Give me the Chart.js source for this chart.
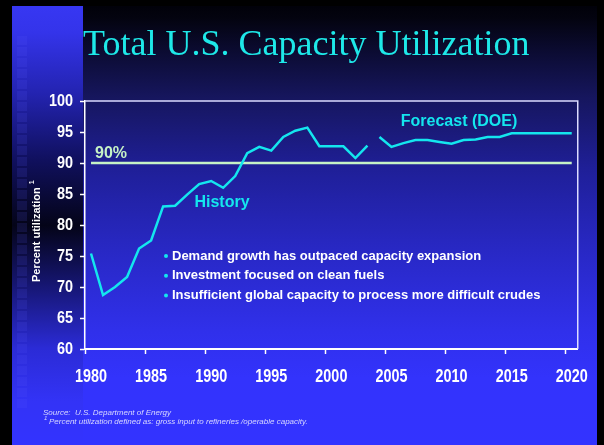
<!DOCTYPE html>
<html>
<head>
<meta charset="utf-8">
<title>Total U.S. Capacity Utilization</title>
<script src="https://cdn.jsdelivr.net/npm/chart.js@4"></script>
<style>
  html, body { margin: 0; padding: 0; background: #000; }
  canvas { display: block; }
</style>
</head>
<body>
<canvas id="capChart" width="604" height="445"></canvas>
<script>
// data
const years = [
  "1980", "1981", "1982", "1983", "1984", "1985", "1986", "1987", "1988", "1989",
  "1990", "1991", "1992", "1993", "1994", "1995", "1996", "1997", "1998", "1999",
  "2000", "2001", "2002", "2003", "2004", "2005", "2006", "2007", "2008", "2009",
  "2010", "2011", "2012", "2013", "2014", "2015", "2016", "2017", "2018", "2019", "2020"
];
// 1980 - 2003
const historyValues = [
  75.4, 68.7, 70.0, 71.6, 76.2, 77.5, 83.0, 83.1, 84.9, 86.6,
  87.1, 86.0, 87.9, 91.6, 92.6, 92.0, 94.2, 95.2, 95.7, 92.7,
  92.7, 92.7, 90.8, 92.8
];
// 2004 - 2020
const forecastYears = years.slice(historyValues.length);
const forecastValues = [
  94.2, 92.6, 93.2, 93.7, 93.7, 93.4, 93.1, 93.7, 93.8, 94.2,
  94.2, 94.8, 94.8, 94.8, 94.8, 94.8, 94.8
];
const targetLevel = 90;
const yTickMin = 60, yTickMax = 100, yTickStep = 5;

const bullets = [
  "Demand growth has outpaced capacity expansion",
  "Investment focused on clean fuels",
  "Insufficient global capacity to process more difficult crudes"
];

const SANS = '"Liberation Sans", Arial, sans-serif';
const CYAN = "#14e6ee";
const PALE_GREEN = "#c6f2c6";
const CLEAR = "rgba(0,0,0,0)";

// slide background: dark-to-blue gradient, black frame, left strip
const slideBackground = {
  id: "slideBackground",
  beforeDraw(chart) {
    const { ctx, width, height } = chart;
    ctx.save();
    const g = ctx.createLinearGradient(0, 0, 0, height);
    g.addColorStop(0.00, "#000006");
    g.addColorStop(0.04, "#03030f");
    g.addColorStop(0.12, "#0c0c34");
    g.addColorStop(0.22, "#16165e");
    g.addColorStop(0.38, "#1f1f98");
    g.addColorStop(0.56, "#2828c4");
    g.addColorStop(0.74, "#3030ea");
    g.addColorStop(0.85, "#3333fc");
    g.addColorStop(1.00, "#3333ff");
    ctx.fillStyle = g;
    ctx.fillRect(0, 0, width, height);

    // left strip
    const s = ctx.createLinearGradient(0, 6, 0, height);
    s.addColorStop(0.00, "#3737f2");
    s.addColorStop(0.06, "#3434ea");
    s.addColorStop(0.20, "#2323b0");
    s.addColorStop(0.35, "#10105e");
    s.addColorStop(0.50, "#040418");
    s.addColorStop(0.63, "#15156e");
    s.addColorStop(0.78, "#2b2bd6");
    s.addColorStop(0.90, "#3333f6");
    s.addColorStop(1.00, "#3333ff");
    ctx.fillStyle = s;
    ctx.fillRect(12, 6, 71, height - 6);

    // faint squares down the strip
    ctx.fillStyle = "rgba(90,90,255,0.14)";
    for (let y = 36; y < 405; y += 11) {
      ctx.fillRect(17, y, 10, 9);
    }

    // black frame
    ctx.fillStyle = "#000";
    ctx.fillRect(0, 0, width, 6);
    ctx.fillRect(0, 0, 12, height);
    ctx.fillRect(597, 0, width - 597, height);

    // title
    ctx.fillStyle = "#1ee8e8";
    ctx.font = '36px "Liberation Serif", "Times New Roman", serif';
    ctx.textAlign = "left";
    ctx.textBaseline = "alphabetic";
    ctx.fillText("Total U.S. Capacity Utilization", 83, 55);
    ctx.restore();
  }
};

// squeezed text, the slide fonts are narrow
function squeezedText(ctx, txt, x, y, sx) {
  ctx.save();
  ctx.translate(x, y);
  ctx.scale(sx, 1);
  ctx.fillText(txt, 0, 0);
  ctx.restore();
}

// plot frame, tick labels, annotations, bullets, footnote
const slideText = {
  id: "slideText",
  afterDraw(chart) {
    const { ctx, chartArea, scales } = chart;
    ctx.save();

    ctx.strokeStyle = "#dcdcff";
    ctx.lineWidth = 1.5;
    ctx.beginPath();
    ctx.moveTo(chartArea.left, chartArea.top);
    ctx.lineTo(chartArea.right, chartArea.top);
    ctx.lineTo(chartArea.right, chartArea.bottom);
    ctx.stroke();

    // axis labels
    ctx.fillStyle = "#ffffff";
    ctx.textBaseline = "middle";
    ctx.font = "bold 18px " + SANS;
    ctx.textAlign = "center";
    scales.x.ticks.forEach((t, i) => {
      if (i % 5 !== 0) return;
      squeezedText(ctx, years[i], scales.x.getPixelForTick(i), 377, 0.8);
    });
    ctx.font = "bold 16px " + SANS;
    ctx.textAlign = "right";
    scales.y.ticks.forEach(t => {
      squeezedText(ctx, String(t.value), 73, scales.y.getPixelForValue(t.value) + 0.5, 0.9);
    });

    ctx.textAlign = "left";
    ctx.font = "bold 16px " + SANS;
    ctx.fillStyle = PALE_GREEN;
    ctx.fillText("90%", 95, 154);

    ctx.fillStyle = CYAN;
    ctx.textAlign = "center";
    ctx.fillText("History", 222, 203);
    ctx.fillText("Forecast (DOE)", 459, 122);

    // bullets
    ctx.font = "bold 13px " + SANS;
    ctx.textAlign = "left";
    bullets.forEach((txt, i) => {
      const y = 256 + i * 19.8;
      ctx.fillStyle = CYAN;
      ctx.beginPath();
      ctx.arc(166, y, 2, 0, Math.PI * 2);
      ctx.fill();
      ctx.fillStyle = "#ffffff";
      ctx.fillText(txt, 172, y);
    });

    // y axis title, rotated
    ctx.save();
    ctx.translate(37, 282);
    ctx.rotate(-Math.PI / 2);
    ctx.fillStyle = "#ffffff";
    ctx.font = "bold 11px " + SANS;
    ctx.textAlign = "left";
    ctx.fillText("Percent utilization", 0, 0);
    const w = ctx.measureText("Percent utilization").width;
    ctx.font = "bold 7px " + SANS;
    ctx.fillText("1", w + 3, -5);
    ctx.restore();

    // footnote
    ctx.fillStyle = "#d8d8ff";
    ctx.font = "italic 8px " + SANS;
    ctx.fillText("Source:  U.S. Department of Energy", 43, 412.5);
    ctx.font = "italic 6px " + SANS;
    ctx.fillText("1", 44, 418);
    ctx.font = "italic 8px " + SANS;
    ctx.fillText("Percent utilization defined as: gross input to refineries /operable capacity.", 49, 421.5);
    ctx.restore();
  }
};

const ctx = document.getElementById("capChart").getContext("2d");
new Chart(ctx, {
  type: "line",
  data: {
    labels: years,
    datasets: [
      {
        label: "History",
        data: historyValues,
        borderColor: CYAN,
        borderWidth: 2.5,
        pointRadius: 0,
        tension: 0,
        order: 1
      },
      {
        label: "Forecast (DOE)",
        data: forecastValues.map((v, i) => ({ x: forecastYears[i], y: v })),
        borderColor: CYAN,
        borderWidth: 2.5,
        pointRadius: 0,
        tension: 0,
        order: 2
      },
      {
        label: "90%",
        data: [
          { x: years[0], y: targetLevel },
          { x: years[years.length - 1], y: targetLevel }
        ],
        borderColor: PALE_GREEN,
        borderWidth: 2.5,
        pointRadius: 0,
        order: 3
      }
    ]
  },
  options: {
    responsive: false,
    animation: false,
    layout: { padding: { top: 101, right: 20, bottom: 0, left: 30 } },
    plugins: {
      legend: { display: false },
      tooltip: { enabled: false },
      title: { display: false }
    },
    scales: {
      x: {
        type: "category",
        offset: true,
        grid: {
          offset: true,
          drawOnChartArea: false,
          tickLength: 5,
          tickWidth: 1.5,
          tickColor: c => (c.index !== undefined && c.index % 5 === 0) ? "#ffffff" : CLEAR
        },
        border: { color: "#ffffff", width: 2 },
        ticks: {
          autoSkip: false,
          maxRotation: 0,
          padding: 12,
          color: CLEAR, // labels drawn squeezed in slideText
          font: { family: SANS, size: 18, weight: "bold" },
          callback: (val, i) => i % 5 === 0 ? years[i] : ""
        },
        afterFit: s => { s.height = 96; }
      },
      y: {
        min: yTickMin,
        max: yTickMax,
        grid: {
          drawOnChartArea: false,
          tickLength: 5,
          tickWidth: 1.5,
          tickColor: "#ffffff"
        },
        border: { color: "#ffffff", width: 1.5 },
        ticks: {
          stepSize: yTickStep,
          padding: 7,
          color: CLEAR,
          font: { family: SANS, size: 16, weight: "bold" }
        },
        afterFit: s => { s.width = 55; }
      }
    }
  },
  plugins: [slideBackground, slideText]
});
</script>
</body>
</html>
